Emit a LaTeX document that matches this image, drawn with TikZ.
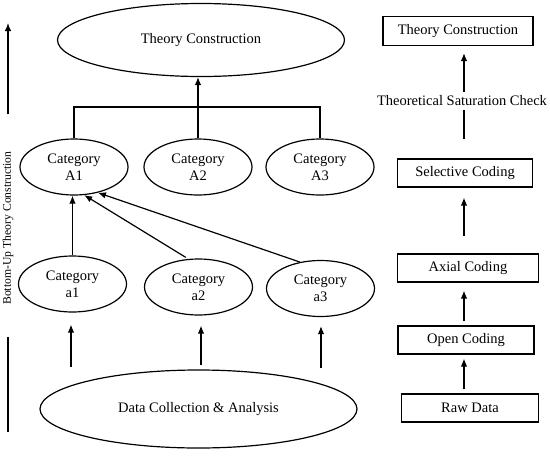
\documentclass[tikz,border=0pt]{standalone}
\usepackage{fontspec}
\setmainfont{Liberation Serif}
\usetikzlibrary{arrows.meta,positioning,shapes.geometric}

\begin{document}
\begin{tikzpicture}[
  x=1pt, y=-1pt,
  every node/.style={font=\fontsize{14.5}{17}\selectfont},
  bigoval/.style={ellipse, draw, line width=1.2pt, inner sep=0pt, align=center},
  catoval/.style={ellipse, draw, line width=1.2pt, inner sep=0pt, minimum width=108pt, minimum height=56pt, align=center},
  codebox/.style={draw, line width=1.2pt, minimum height=28pt, inner sep=0pt},
  arrow/.style={-{Latex[length=8pt,width=6.5pt]}, line width=1.2pt},
  link/.style={line width=1.2pt}
]
  \useasboundingbox (0,0) rectangle (550,456);

  % Left side: ovals, bottom-up
  \node[bigoval, minimum width=287pt, minimum height=73pt] (theory) at (201,40) {Theory Construction};

  \node[catoval] (A1) at (74,167) {Category\\A1};
  \node[catoval] (A2) at (198,167) {Category\\A2};
  \node[catoval] (A3) at (320,167) {Category\\A3};

  \node[catoval] (a1) at (72.5,284) {Category\\a1};
  \node[catoval] (a2) at (198.5,287) {Category\\a2};
  \node[catoval] (a3) at (320.5,288.5) {Category\\a3};

  \node[bigoval, minimum width=317pt, minimum height=78pt] (data) at (198.5,409) {Data Collection \& Analysis};

  % Categories merge into the theory oval
  \coordinate (bar) at (198,107);
  \draw[link] (A1.north) |- (bar) -| (A3.north);
  \draw[arrow] (A2.north) -- (A2.north |- theory.south);

  % Lower categories feed A1
  \draw[arrow] (a1.north) -- (a1.north |- A1.south);
  \draw[arrow, shorten <=3pt] (a2.110) -- (A1.-70);
  \draw[arrow] (a3.128) -- (A1.-47);

  % Data arrows (free standing)
  \coordinate (d1) at (71,367);
  \coordinate (d2) at (201,365);
  \coordinate (d3) at (321,368);
  \draw[arrow, shorten >=12pt] (d1) -- (d1 |- a1.south);
  \draw[arrow, shorten >=10pt] (d2) -- (d2 |- a2.south);
  \draw[arrow, shorten >=9pt] (d3) -- (d3 |- a3.south);

  % Vertical axis with rotated caption
  \node[rotate=90, inner sep=0pt, font=\fontsize{11.7}{14}\selectfont] (axis) at (8,228) {Bottom-Up Theory Construction};
  \coordinate (axtop) at (8,23);
  \coordinate (axbot) at (8,432);
  \draw[arrow, shorten <=37pt] (axis.east) -- (axtop);
  \draw[link, shorten <=32pt] (axis.west) -- (axbot);

  % Right side: coding steps
  \node[codebox, minimum width=150pt, minimum height=29pt] (tcbox) at (458,31) {Theory Construction};
  \node (sat) at (462,101) {Theoretical Saturation Check};
  \node[codebox, minimum width=135pt] (selective) at (465,173) {Selective Coding};
  \node[codebox, minimum width=141pt] (axial) at (468,268) {Axial Coding};
  \node[codebox, minimum width=136pt] (open) at (466,340) {Open Coding};
  \node[codebox, minimum width=137pt] (raw) at (470,408) {Raw Data};

  \coordinate (spine) at (464,0);
  \draw[arrow, shorten >=7pt] (sat.north -| spine) -- (tcbox.south -| spine);
  \draw[link, shorten >=19pt] (sat.south -| spine) -- (selective.north -| spine);
  \draw[arrow, shorten <=17pt, shorten >=10pt] (axial.north -| spine) -- (selective.south -| spine);
  \draw[arrow, shorten <=4pt, shorten >=8pt] (open.north -| spine) -- (axial.south -| spine);
  \draw[arrow, shorten <=4pt, shorten >=4pt] (raw.north -| spine) -- (open.south -| spine);

\end{tikzpicture}
\end{document}
